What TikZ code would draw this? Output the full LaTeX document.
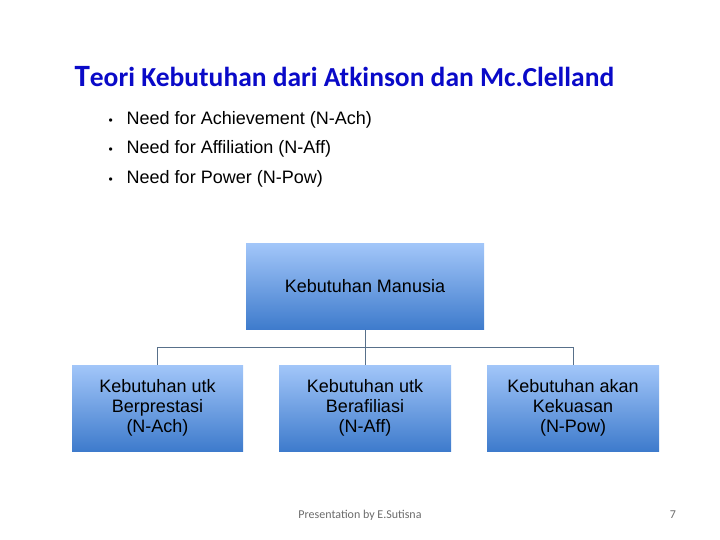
\documentclass[tikz,border=0pt]{standalone}
\usepackage{fontspec}
\setmainfont{Liberation Sans}
\newfontfamily\calibri{Carlito}
\usetikzlibrary{positioning, calc}
\definecolor{ctitle}{HTML}{0A0AC8}
\definecolor{ctop}{HTML}{A2C6F9}
\definecolor{cbot}{HTML}{3E7BCC}
\definecolor{cline}{HTML}{58708A}
\definecolor{cfoot}{HTML}{6B6B6B}
\newcommand{\dotmark}{{\fontsize{12}{19}\selectfont\textbullet}}
\tikzset{
  every picture/.style={x=1pt, y=-1pt},
  box/.style={top color=ctop, bottom color=cbot, draw=none, align=center, inner sep=0pt,
    font=\fontsize{18}{20}\selectfont, minimum height=86pt},
  link/.style={draw=cline, line width=0.9pt},
  title/.style={font=\calibri\bfseries\fontsize{27.5}{30}\selectfont, text=ctitle, anchor=base west},
  item/.style={font=\fontsize{18}{20}\selectfont, anchor=base west},
  foot/.style={font=\calibri\fontsize{12}{14}\selectfont, text=cfoot},
}

\begin{document}
\begin{tikzpicture}
  \useasboundingbox (0,0) rectangle (720,540);
  \node[title] (ttl) at (71,87) {\fontsize{31}{30}\selectfont T\fontsize{27.5}{30}\selectfont eori Kebutuhan dari Atkinson dan Mc.Clelland};
  % bullets
  \node[item] (n1) at (105,124.5) {\dotmark\hspace{14pt}Need for Achievement (N-Ach)};
  \node[item] (n2) at (105,153.5) {\dotmark\hspace{14pt}Need for Affiliation (N-Aff)};
  \node[item] (n3) at (105,183.5) {\dotmark\hspace{14pt}Need for Power (N-Pow)};
  % tree
  \node[box, minimum width=238pt] (main) at (365,286.5) {Kebutuhan Manusia};
  \node[box, minimum width=171pt] (ach) at (157.5,408) {Kebutuhan utk\\Berprestasi\\(N-Ach)};
  \node[box, minimum width=172pt] (aff) at (365,408) {Kebutuhan utk\\Berafiliasi\\(N-Aff)};
  \node[box, minimum width=172pt] (pow) at (573,408) {Kebutuhan akan\\Kekuasan\\(N-Pow)};
  \draw[link] (main.south) -- (aff.north);
  \draw[link] (ach.north) -- ++(0,-17) -| (pow.north);
  % footer
  \node[foot] (by) at (360,515) {Presentation by E.Sutisna};
  \node[foot] (pg) at (673,515) {7};
\end{tikzpicture}
\end{document}
